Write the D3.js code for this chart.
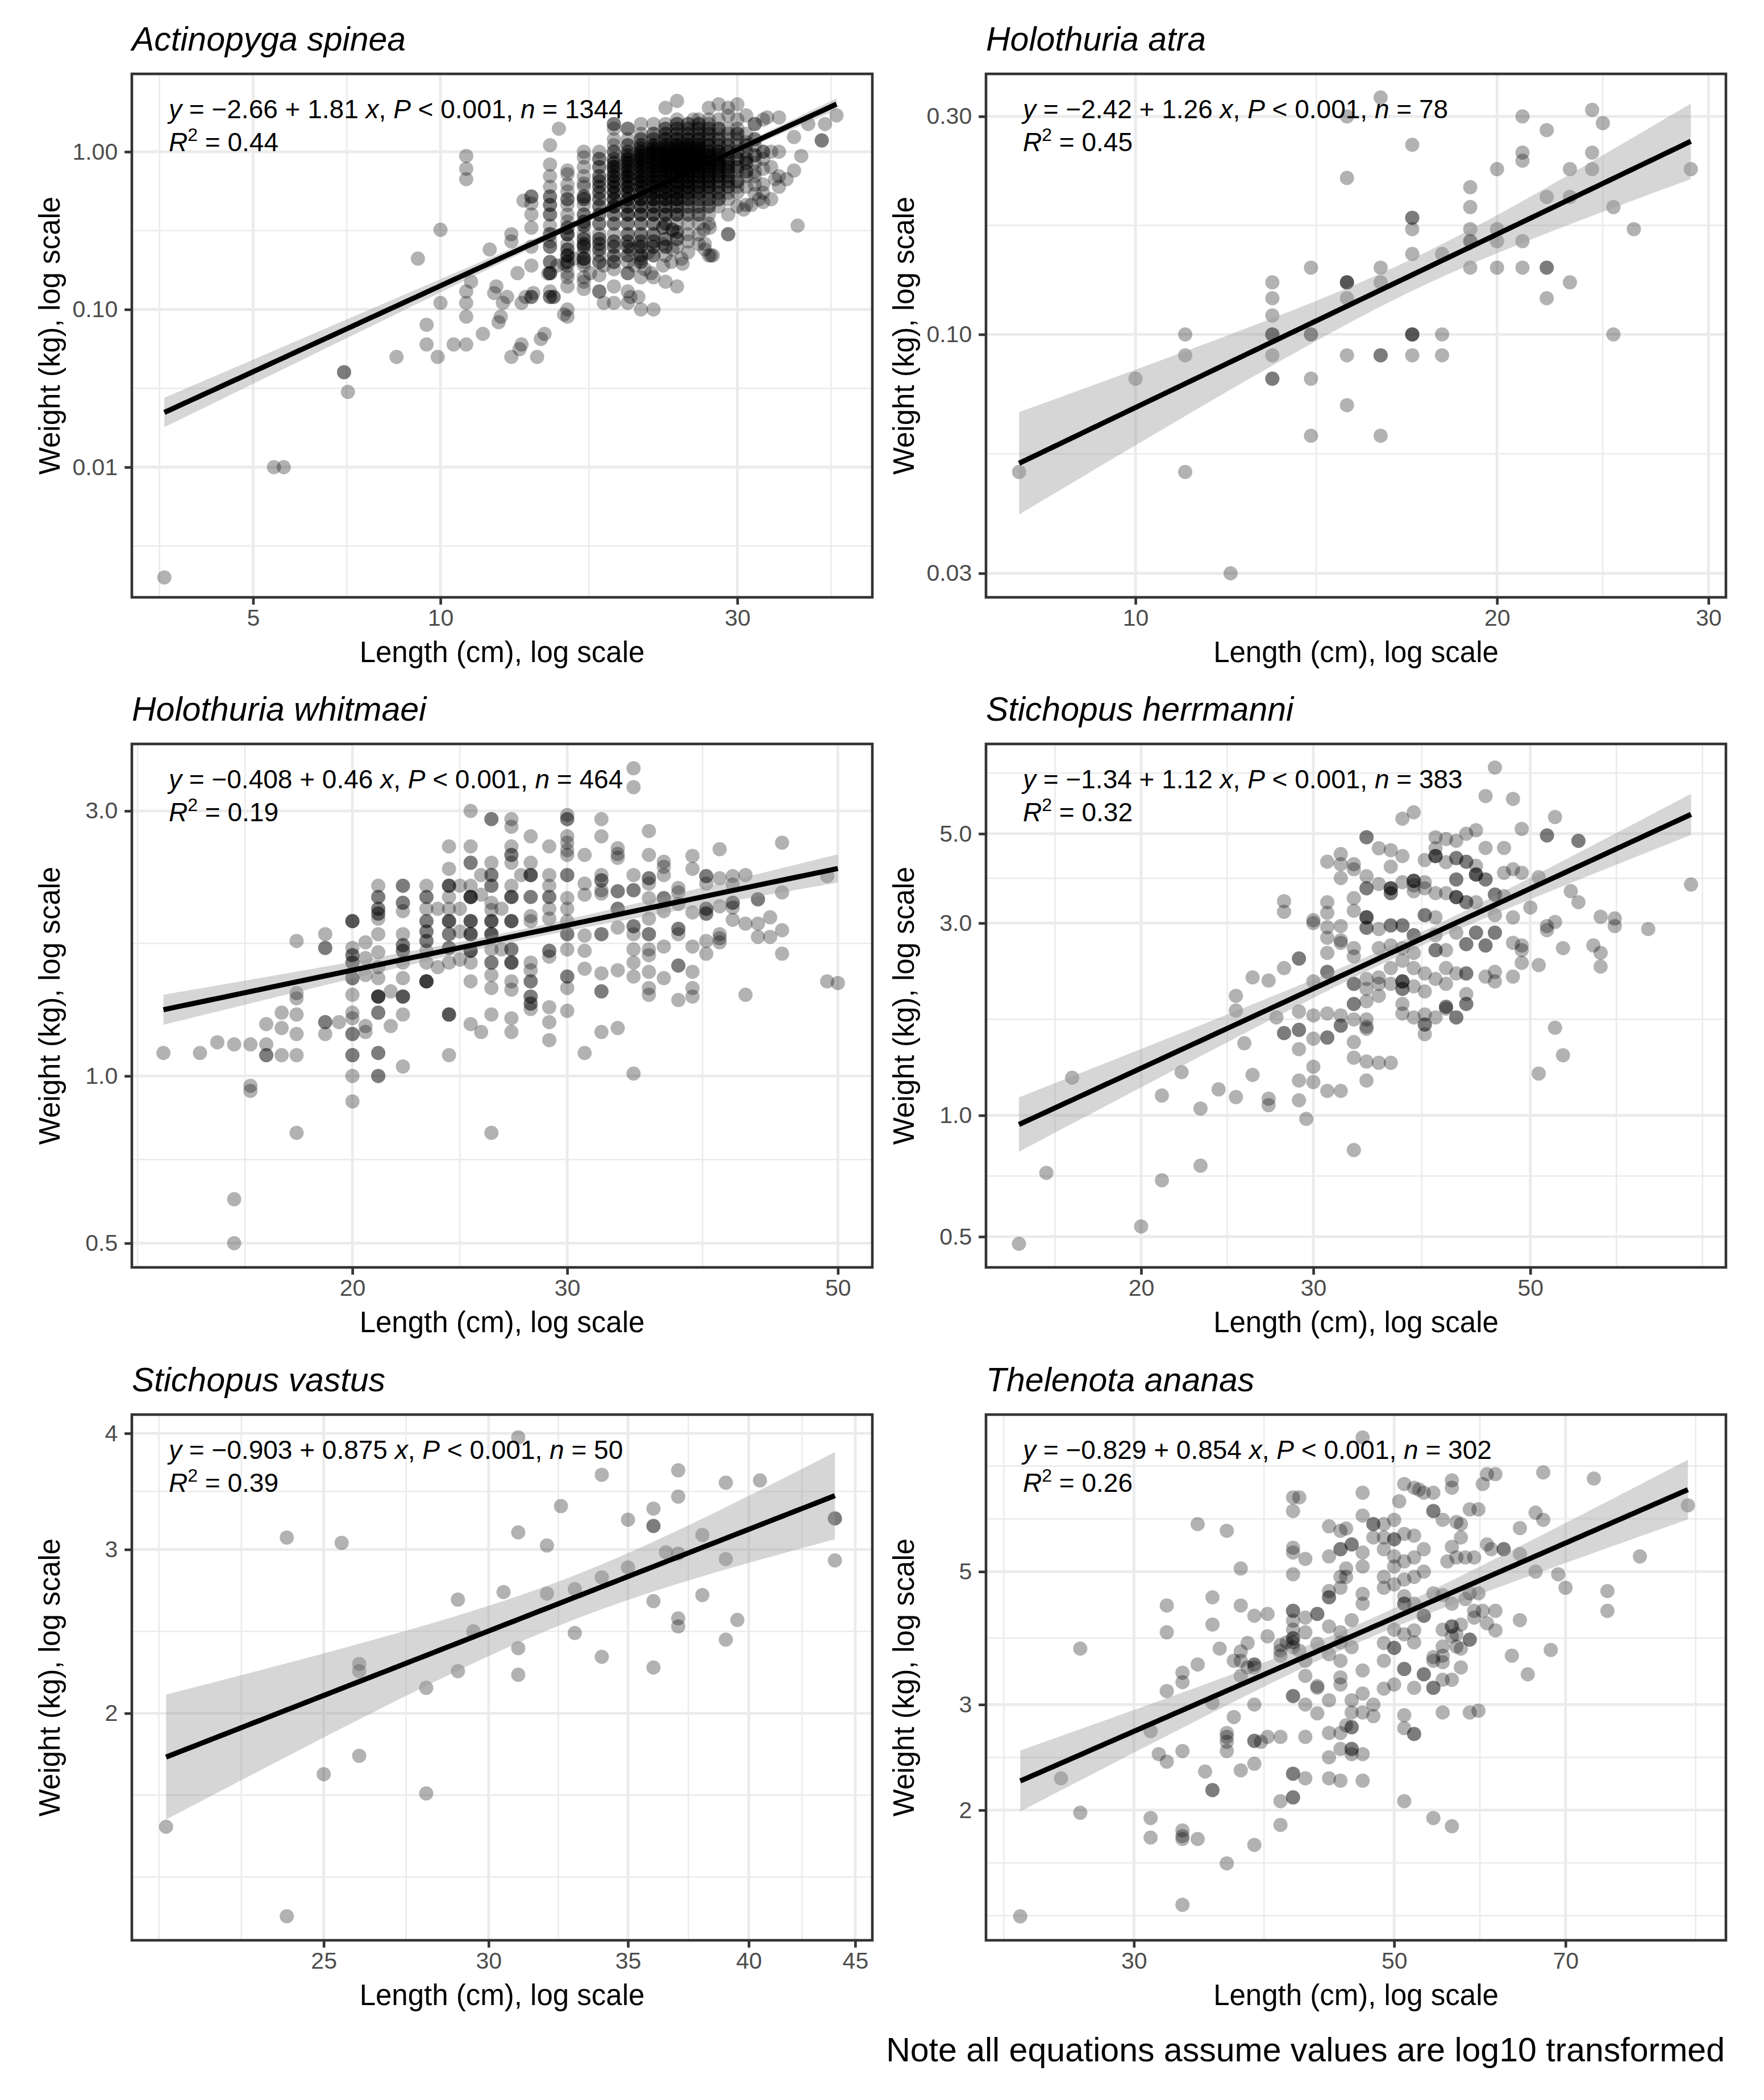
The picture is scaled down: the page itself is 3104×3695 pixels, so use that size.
<!DOCTYPE html>
<html>
<head>
<meta charset="utf-8">
<script src="https://cdn.jsdelivr.net/npm/d3@7"></script>
<style>
body{margin:0;background:#fff}
svg text{font-family:"Liberation Sans",Arial,Helvetica,sans-serif}
</style>
</head>
<body>
<svg id="chart" width="3104" height="3695"></svg>
<script>
// ---------- labels & fitted model summaries ----------
const panelTitles = ["Actinopyga spinea","Holothuria atra","Holothuria whitmaei","Stichopus herrmanni","Stichopus vastus","Thelenota ananas"];
const eqIntercept = [-2.66,-2.42,-0.408,-1.34,-0.903,-0.829];
const eqSlope = [1.81,1.26,0.46,1.12,0.875,0.854];
const rSquared = [0.44,0.45,0.19,0.32,0.39,0.26];
const nObs = [1344,78,464,383,50,302];
const pText = "0.001";

// ---------- axes ----------
const xTicks = [[5,10,30],[10,20,30],[20,30,50],[20,30,50],[25,30,35,40,45],[30,50,70]];
const xTickLabels = [["5","10","30"],["10","20","30"],["20","30","50"],["20","30","50"],["25","30","35","40","45"],["30","50","70"]];
const yTicks = [[0.01,0.1,1],[0.03,0.1,0.3],[0.5,1,3],[0.5,1,3,5],[2,3,4],[2,3,5]];
const yTickLabels = [["0.01","0.10","1.00"],["0.03","0.10","0.30"],["0.5","1.0","3.0"],["0.5","1.0","3.0","5.0"],["2","3","4"],["2","3","5"]];
const xLimits = [[3.192,49.44],[7.508,31.02],[13.19,53.36],[13.88,79.25],[20.22,45.86],[22.44,95.9]];
const yLimits = [[0.001495,3.117],[0.02658,0.3717],[0.4523,3.960],[0.4195,8.35],[1.140,4.19],[1.213,9.14]];
const xTitle = "Length (cm), log scale";
const yTitle = "Weight (kg), log scale";
const note = "Note all equations assume values are log10 transformed";

// ---------- data: [length cm, weight kg, (count of overlapping records)] ----------
const spinea = [
[3.6,0.002],[5.4,0.01],[5.6,0.01],[7,0.04,2],[7.1,0.03],[8.5,0.05],[9.2,0.21],[9.5,0.08],[9.5,0.06],[9.9,0.05],
[10,0.32],[10,0.11],[10.5,0.06],[11,0.94],[11,0.78],[11,0.67],[11,0.13],[11,0.11],[11,0.09],[11,0.06],
[11.2,0.15],[11.7,0.07],[12,0.24],[12.2,0.127],[12.3,0.14],[12.4,0.083],[12.5,0.09],[12.6,0.11],[12.8,0.12],
[13,0.05],[13,0.3],[13,0.27],[13.3,0.17],[13.4,0.056],[13.5,0.06],[13.5,0.11],[13.6,0.49],[13.7,0.12],
[14,0.52,2],[14,0.47],[14,0.4],[14,0.33],[14,0.25],[14,0.19],[14,0.12,2],[14.1,0.127],[14.3,0.05],[14.5,0.065],[14.7,0.07],[14.9,0.169],
[15,1.1],[15,0.83],[15,0.7],[15,0.6],[15,0.52,2],[15,0.46,2],[15,0.4,2],[15,0.34],[15,0.3,2],[15,0.27],[15,0.25,2],[15,0.2,2],[15,0.17,3],[15,0.13],[15,0.12,2],[15.2,0.12,2],[15.4,0.19],[15.5,1.4],[15.8,0.195],[15.8,0.093],
[16,0.76],[16,0.72],[16,0.62],[16,0.56],[16,0.5,2],[16,0.46],[16,0.4],[16,0.36],[16,0.33,2],[16,0.3,3],[16,0.26],[16,0.24,2],[16,0.22,3],[16,0.2,2],[16,0.19],[16,0.17],[16,0.16],[16,0.14],[16,0.10],[16,0.09],[16.4,0.21],
[17,1.0],[17,0.92],[17,0.8],[17,0.7],[17,0.63],[17,0.6],[17,0.52,2],[17,0.5,2],[17,0.46],[17,0.4,2],[17,0.36,2],[17,0.34,2],[17,0.3],[17,0.28,2],[17,0.26,2],[17,0.25,2],[17,0.23],[17,0.21,3],[17,0.2],[17,0.19],[17,0.16],[17,0.15],[17,0.135],[17.4,0.17],
[18,0.35,2],[18,0.4,2],[18,0.45,2],[18,0.5,2],[18,0.55,2],[18,0.6,2],[18,0.65,2],[18,0.7,2],[18,0.8,2],[18,0.9,2],[18,1.0],[18,0.3],[18,0.28,2],[18,0.26,2],[18,0.24,2],[18,0.22],[18,0.2,2],[18,0.165],[18,0.13,2],[18.3,0.19],[18.3,0.11],
[19,0.2,2],[19,0.22,2],[19,0.25,2],[19,0.27,2],[19,0.3],[19,0.35,2],[19,0.4,2],[19,0.45,3],[19,0.5,3],[19,0.55,3],[19,0.6,3],[19,0.65,3],[19,0.7,3],[19,0.75,2],[19,0.8,3],[19,0.85,2],[19,0.9,2],[19,1.0,2],[19,1.1],[19,1.2],[19,1.4],[19,1.5,2],[19,0.18],[19,0.14],[19,0.11],
[20,0.22,2],[20,0.25,2],[20,0.27,2],[20,0.3,2],[20,0.35,2],[20,0.4,3],[20,0.45,3],[20,0.5,3],[20,0.55,3],[20,0.6,4],[20,0.65,3],[20,0.7,4],[20,0.75,3],[20,0.8,3],[20,0.85,3],[20,0.9,3],[20,0.95,2],[20,1.0,2],[20,1.1,2],[20,1.2],[20,1.4,2],[20,0.2],[20,0.17,2],[20,0.13],[20,0.11],
[20.2,0.24],[20.2,0.12],[20.5,0.19],[20.8,0.25],[20.8,0.12],
[21,0.2,2],[21,0.22,2],[21,0.25,2],[21,0.27,2],[21,0.3,2],[21,0.35,2],[21,0.4,3],[21,0.45,3],[21,0.5,4],[21,0.55,3],[21,0.6,4],[21,0.65,4],[21,0.7,4],[21,0.75,3],[21,0.8,4],[21,0.85,3],[21,0.9,4],[21,0.95,3],[21,1.0,3],[21,1.05,2],[21,1.1,2],[21,1.2,2],[21,1.3],[21,1.5],[21,0.21],[21,0.16],[21,0.1],
[21.3,0.18],[21.6,0.23],[21.8,0.17],
[22,0.22,2],[22,0.25,2],[22,0.27,2],[22,0.3,2],[22,0.35,2],[22,0.4,3],[22,0.45,3],[22,0.5,4],[22,0.55,4],[22,0.6,4],[22,0.65,4],[22,0.7,4],[22,0.75,4],[22,0.8,4],[22,0.85,4],[22,0.9,4],[22,0.95,3],[22,1.0,4],[22,1.05,3],[22,1.1,3],[22,1.2,2],[22,1.3,2],[22,1.5],[22,0.16],[22,0.1],
[22.8,0.33,2],[22.8,0.26],[22.8,0.19],
[23,0.22],[23,0.25,2],[23,0.28,2],[23,0.35,2],[23,0.4,3],[23,0.45,3],[23,0.5,4],[23,0.55,4],[23,0.6,4],[23,0.65,4],[23,0.7,4],[23,0.75,4],[23,0.8,5],[23,0.85,4],[23,0.9,5],[23,0.95,4],[23,1.0,4],[23,1.05,3],[23,1.1,3],[23,1.2,3],[23,1.3,2],[23,1.4,2],[23,1.5],[23,1.9],[23,0.15],
[23.5,0.2],[23.6,0.32,2],[23.6,0.24],
[24,0.25],[24,0.28,2],[24,0.31,2],[24,0.35],[24,0.4,3],[24,0.45,3],[24,0.5,4],[24,0.55,4],[24,0.6,4],[24,0.65,4],[24,0.7,4],[24,0.75,4],[24,0.8,5],[24,0.85,4],[24,0.9,5],[24,0.95,4],[24,1.0,5],[24,1.05,3],[24,1.1,4],[24,1.2,3],[24,1.3,2],[24,1.4,2],[24,1.5,2],[24,1.6],[24,2.1],[24,0.14],
[24.4,0.21],[24.5,0.195],
[25,0.23],[25,0.27],[25,0.3],[25,0.35],[25,0.4,2],[25,0.45,2],[25,0.5,3],[25,0.55,3],[25,0.6,4],[25,0.65,4],[25,0.7,4],[25,0.75,4],[25,0.8,5],[25,0.85,4],[25,0.9,5],[25,0.95,4],[25,1.0,5],[25,1.05,3],[25,1.1,4],[25,1.2,3],[25,1.3,2],[25,1.4,2],[25,1.5,2],[25.5,1.6],
[26,0.26],[26,0.3],[26,0.35],[26,0.4,2],[26,0.45,2],[26,0.5,2],[26,0.55,3],[26,0.6,3],[26,0.65,3],[26,0.7,4],[26,0.75,3],[26,0.8,4],[26,0.85,4],[26,0.9,5],[26,0.95,4],[26,1.0,4],[26,1.05,3],[26,1.1,3],[26,1.2,3],[26,1.3,2],[26,1.4,2],[26,1.5,2],[26,1.6],
[26.5,0.32],[26.6,0.26],[26.6,0.24],
[27,0.22],[27,0.35],[27,0.4],[27,0.45,2],[27,0.5,2],[27,0.55,2],[27,0.6,3],[27,0.65,3],[27,0.7,3],[27,0.75,3],[27,0.8,4],[27,0.85,3],[27,0.9,4],[27,0.95,3],[27,1.0,3],[27,1.1,3],[27,1.2,2],[27,1.3,2],[27,1.4,2],[27,1.5],[27,1.6],[27,1.9],
[27.1,0.33],[27.2,0.22],[27.4,0.22],
[28,0.45],[28,0.5,2],[28,0.55,2],[28,0.6,2],[28,0.65,2],[28,0.7,3],[28,0.75,2],[28,0.8,3],[28,0.85,3],[28,0.9,3],[28,0.95,2],[28,1.0,3],[28,1.1,2],[28,1.2,2],[28,1.3],[28,1.4,2],[28,1.6],[28,2.0],
[29,0.3,2],[29,0.4],[29,0.5],[29,0.55],[29,0.6,2],[29,0.65,2],[29,0.7,2],[29,0.75,2],[29,0.8,2],[29,0.85,2],[29,0.9,2],[29,1.0,2],[29,1.1,2],[29,1.2],[29,1.3],[29,1.4],[29,1.7],[29,1.9],
[30,0.45],[30,0.55],[30,0.6],[30,0.65,2],[30,0.75],[30,0.8,2],[30,0.9,2],[30,1.0,2],[30,1.1],[30,1.2],[30,1.3,2],[30,1.4],[30,1.6],[30,2.0],[30.7,0.43],
[31,0.46],[31,0.6],[31,0.7],[31,0.75,2],[31,0.85,2],[31,0.9,2],[31,1.0],[31,1.1,2],[31,1.15],[31,1.3],[31,1.7],[31.6,0.46],
[32,0.54],[32,0.62],[32,0.7],[32,0.75],[32,0.85],[32,0.95,2],[32,1.1],[32,1.2,2],[32,1.5,2],[32.5,0.5],
[33,0.48],[33,0.55],[33,0.62],[33,0.78],[33,0.9],[33,1.0,2],[33,1.6],[33.5,1.65],
[34,0.5],[34,0.8],[34,1.0],[34.5,0.67],
[35,0.6],[35,0.7],[35,1.0],[35,1.65],[36,0.67],[37,1.24],[37,0.76],[37.5,0.34],[38,0.94],[39,1.5],[41,1.18,2],[41.5,1.5],[43.3,1.7]
];

const atra = [
[8,0.05],[10,0.08],[11,0.10],[11,0.09],[11,0.05],[12,0.03],
[13,0.13],[13,0.12],[13,0.11],[13,0.10,3],[13,0.09],[13,0.08,2],
[14,0.14],[14,0.10,2],[14,0.08],[14,0.06],
[15,0.30],[15,0.22],[15,0.13,3],[15,0.12],[15,0.09],[15,0.07],
[16,0.33],[16,0.14],[16,0.13],[16,0.09,2],[16,0.06],
[17,0.26],[17,0.18,2],[17,0.17],[17,0.15],[17,0.10,3],[17,0.09],
[18,0.15],[18,0.10],[18,0.09],
[19,0.21],[19,0.19],[19,0.17],[19,0.16,2],[19,0.14],
[20,0.23],[20,0.17],[20,0.16],[20,0.14],
[21,0.30],[21,0.25],[21,0.24],[21,0.16],[21,0.14],
[22,0.28],[22,0.20],[22,0.14,2],[22,0.12],
[23,0.23],[23,0.20],[23,0.13],
[24,0.31],[24,0.25],[24,0.23],[24.5,0.29],
[25,0.19],[25,0.10],[26,0.17],[29,0.23]
];

const whitmaei = [
[14,1.1],[15,1.1],[15.5,1.15],[16,1.14],[16,0.6],[16,0.5],[16.5,1.14],[16.5,0.96],[16.5,0.94],
[17,1.24],[17,1.14],[17,1.09,2],[17.5,1.3],[17.5,1.22],[17.5,1.09],
[18,1.75],[18,1.41],[18,1.38],[18,1.29],[18,1.19],[18,1.09],[18,0.79],
[19,1.8],[19,1.7,2],[19,1.25,2],[19,1.19],[19.5,1.25],
[20,1.9,3],[20,1.7],[20,1.65,2],[20,1.6,2],[20,1.5,2],[20,1.4],[20,1.3],[20,1.27],[20,1.19,2],[20,1.09,2],[20,1.0],[20,0.9],
[20.5,1.74],[20.5,1.63],[20.5,1.52],[20.5,1.23],[20.5,1.2],
[21,2.2],[21,2.1,2],[21,2.0,2],[21,1.96,2],[21,1.92],[21,1.8],[21,1.67],[21,1.57],[21,1.5],[21,1.39,4],[21,1.3,2],[21,1.1,2],[21,1.0,2],
[21.5,1.42],[21.5,1.23],
[22,2.2,2],[22,2.05,2],[22,1.98],[22,1.8],[22,1.72,2],[22,1.68,2],[22,1.6],[22,1.5],[22,1.39,3],[22,1.29],[22,1.04],
[23,2.2],[23,2.1,2],[23,2.0],[23,1.9,2],[23,1.82,2],[23,1.75,2],[23,1.68],[23,1.6],[23,1.48,4],
[23.5,2.0],[23.5,1.57],
[24,2.59],[24,2.36],[24,2.2,3],[24,2.1],[24,2.0],[24,1.9,3],[24,1.8,2],[24,1.7,2],[24,1.6],[24,1.29,3],[24,1.09],
[24.5,2.2],[24.5,2.0],[24.5,1.82],[24.5,1.62],
[25,3.0],[25,2.59],[25,2.42,2],[25,2.2],[25,2.1,4],[25,1.9,3],[25,1.8,3],[25,1.68,3],[25,1.6],[25,1.48],[25,1.24],
[25.5,2.3],[25.5,2.12],[25.5,1.2],
[26,2.9,2],[26,2.42],[26,2.3,2],[26,2.2,2],[26,2.05],[26,1.99],[26,1.9,3],[26,1.8,3],[26,1.69],[26,1.6,2],[26,1.52],[26,1.44],[26,1.29],[26,0.79],
[26.5,2.0],[26.5,1.69],
[27,2.9],[27,2.81],[27,2.59],[27,2.5,2],[27,2.42],[27,2.2],[27,2.1,3],[27,1.9,3],[27,1.69,2],[27,1.6,3],[27,1.48],[27,1.43],[27,1.27],[27,1.2],
[27.5,2.3],
[28,2.7],[28,2.42],[28,2.3,3],[28,2.1,2],[28,1.94],[28,1.9],[28,1.6],[28,1.55],[28,1.48,2],[28,1.39,2],[28,1.35,2],[28,1.32],
[29,2.59],[29,2.3],[29,2.2],[29,2.1,2],[29,2.0],[29,1.92],[29,1.68,2],[29,1.64],[29,1.33],[29,1.25],[29,1.16],
[30,2.95],[30,2.9,2],[30,2.7],[30,2.63],[30,2.55],[30,2.5],[30,2.3,2],[30,2.09],[30,2.0],[30,1.9],[30,1.8,2],[30,1.69],[30,1.51,2],[30,1.44],[30,1.31],
[31,2.5],[31,2.22],[31,2.12],[31,1.79],[31,1.68],[31,1.56],[31,1.1],
[32,2.9],[32,2.7],[32,2.3],[32,2.25,2],[32,2.16],[32,2.13],[32,1.8,2],[32,1.53],[32,1.42,2],[32,1.2],
[33,2.57],[33,2.51],[33,2.47],[33,2.15,2],[33,2.0,2],[33,1.85],[33,1.55],[33,1.22],
[34,3.58],[34,3.31],[34,2.3],[34,2.16,2],[34,1.86,2],[34,1.8],[34,1.69],[34,1.6],[34,1.51],[34,1.01],
[35,2.76],[35,2.5],[35,2.27,2],[35,2.22],[35,2.09],[35,1.92],[35,1.8,2],[35,1.69],[35,1.65],[35,1.54],[35,1.44],[35,1.4],
[36,2.43],[36,2.38],[36,2.3],[36,2.09,2],[36,1.98],[36,1.71],[36,1.5],
[37,2.18],[37,2.14],[37,2.04],[37,1.84,2],[37,1.8],[37,1.58,2],[37,1.37],
[38,2.49],[38,2.36],[38,1.97],[38,1.71],[38,1.54],[38,1.44],[38,1.39],
[39,2.29,2],[39,2.22],[39,2.0,2],[39,1.96,2],[39,1.75],[39,1.66],
[40,2.56],[40,2.27],[40,2.02],[40,1.8],[40,1.77],[40,1.74],
[41,2.29],[41,2.21],[41,2.05,2],[41,2.01],[41,1.91],
[42,2.3],[42,1.88],[42,1.4],
[43,2.08,2],[43,1.88],[43,1.78],
[44,1.93],[44,1.78],
[45,2.63],[45,2.14],[45,1.83],[45,1.66],
[49,2.29],[49,1.48],[50,1.47]
];

const herrmanni = [
[15,0.48],[16,0.72],[17,1.24],[20,0.53],[21,1.12],[21,0.69],[22,1.28],[23,1.04],[23,0.75],[24,1.16],
[25,1.98],[25,1.82],[25,1.11],[25.5,1.51],[26,2.2],[26,1.26],[27,1.10],[27,1.06],[27,2.16],[27.5,1.75],[29,1.09],
[46,7.3],[45,6.2],[48,6.1],[37,5.45],[38,5.65],[53,5.5],[34,4.9,2],[49,5.14],[52,4.95,2],[56,4.8,2],
[40,4.9],[41,4.85],[42,4.8],[43,5.0],[44,5.1],[35,4.6],[36,4.55],[37,4.4],
[32,4.45],[31,4.26],[32,4.2],[33,4.2],[33,4.08],[32,3.88],[36,4.14],
[39,4.3],[40,4.4,3],[40,4.6],[41,4.25],[42,4.35,2],[43,4.26,2],[44,4.16],
[44,3.96,3],[45,3.85,2],[45,4.61],[47,4.61],[47,4.0],[48,4.08],[49,4.0],[51,3.9],
[34,3.92],[34,3.66,2],[35,3.75],[36,3.66,3],[36,3.56,2],
[37,3.79],[38,3.82,3],[38,3.72],[39,3.79],[38,3.6],[39,3.66],[40,3.56],
[41,3.56],[42,3.85,2],[42,3.48,3],[43,3.38,2],[44,3.38],
[46,3.53,2],[47,3.5],[55,3.6],[56,3.38],[50,3.28],
[31,3.38],[31,3.18],[30,3.05],[33,3.46],[33,3.22],
[34,3.1,3],[34,2.92,2],[36,2.96,2],[37,2.96,2],
[35,2.6],[36,2.64],[37,2.6],[38,2.8,2],[38,2.53],
[39,3.14,2],[40,3.1],[40,2.8],[40,2.57,2],[41,2.57],
[42,2.84],[43,2.66,2],[44,2.84,2],[45,2.64,2],[46,2.84,2],[46,3.14],[48,3.1],
[48,2.68],[49,2.64],[49,2.57],[52,2.95],[52,2.88],[53,3.02],
[59,3.11],[61,3.08],[61,2.95],[66,2.9],[73,3.74],
[54,2.6],[58,2.64],[59,2.53],[59,2.34],[51,2.36],[49,2.39],[48,2.21],
[45,2.21],[46,2.27],[46,2.15],[43,2.25,2],[41,2.12],[41,1.84],[42,1.75],
[39,2.25],[40,2.18],[39,2.03],[38,2.09],[37,2.15,3],[37,2.06,2],[36,2.12],[35,2.12],[35,1.98],
[33,2.12,2],[34,2.18],[34,2.06],[34,1.92],[37,1.89],[37,1.79],
[38,1.75],[39,1.78],[39,1.68,2],[39,1.59],[40,1.75],[41,1.86,2],[42,1.75],[43,1.89,2],
[31,1.79],[30,1.77],[29,1.81],
[32,1.77],[32,1.67,2],[33,1.89,2],[33,1.73],[34,1.73],[34,1.66],[34,1.64],
[31,1.56,2],[30,1.55],[29,1.63,2],[29,1.46],[28,1.6,2],
[33,1.52],[33,1.39],[34,1.36],[35,1.35],[36,1.35],
[30,1.32],[29,1.22],[30,1.21],[31,1.15],[32,1.15],[34,1.22],[29.5,0.98],[33,0.82],
[53,1.65],[54,1.41],[51,1.27],
[28,3.2],[28,3.4],[28,2.32],[29,2.45,2],
[30,2.15],[31,2.27,2],[31,2.53],[31,2.76],[32,2.72],[33,2.6],[33,2.48],
[30,3.0],[31,2.93],[32,2.95],[32,2.68],[35,2.9],[35,2.2],[36,2.32],[37,2.42],[38,2.32],[41,2.32],[42,2.25],[43,2.0]
];

const vastus = [
[21,1.51],[24,3.09],[24,1.21],[25,1.72],[25.5,3.05],[26,2.26],[26,2.22],[26,1.80],
[28,2.13],[28,1.64],[29,2.65],[29,2.22],[29.5,2.45],[30.5,2.70],
[31,3.96],[31,3.13],[31,2.35],[31,2.20],[32,3.03],[32,2.69],[32.5,3.34],
[33,2.72],[33,2.44],[34,3.61],[34,2.80],[34,2.30],[35,3.23],[35,2.87],
[36,3.32],[36,3.18,2],[36,2.64],[36,2.24],[36.5,2.98],
[37,3.65],[37,3.42],[37,2.97],[37,2.53],[37,2.48],
[38,3.11],[38,2.68],[39,3.54],[39,2.93],[39,2.40],[39.5,2.52],[40.5,3.56],
[44,3.24,2],[44,2.92]
];

const ananas = [
[24,1.33],[26,2.26],[27,3.72],[27,1.98],
[31,2.71],[31,1.94],[31,1.80],[31.5,2.48],[32,2.41],[32,4.39],[32,3.96],[32,3.16],
[33,3.39],[33,3.27],[33,2.51],[33,1.85],[33,1.81],[33,1.79],[33,1.39],
[34,6.0],[34,3.5],[34,1.79],[34.5,2.32],
[35,4.53],[35,4.08],[35,3.02],[35,2.16,2],[35.5,3.72],
[36,5.85],[36,2.69],[36,2.65],[36,2.6],[36,2.51],[36,1.63],[36.5,2.86],
[37,5.06],[37,3.35],[37,3.68],[37,2.33],[37.5,3.8],[37,4.39],[36.5,3.55],[37,3.55],[37.5,3.46],
[38,4.22],[38,3.5,2],[38,3.46],[38,3.0],[38,2.61,2],[38,1.75],[38.5,2.6],[38,2.39],
[39,3.9],[39,4.25],[39,2.65],
[40,2.65],[40,2.07],[40,1.89],[40,3.69],[40,3.62],[40,3.77],[40.5,3.81],
[41,6.65],[41.5,6.65],[41,6.31],[41,5.48],[41,5.38],[41,4.95],[41,4.3,2],[41,4.14],[41,4.0],[41,3.87,2],[41,3.81],[41,3.74],[41,3.1,2],[41,2.3,2],[41,2.1,2],[41.5,3.69],
[42,5.25],[42,4.19],[42,3.96],[42,3.35],[42,2.65],[42,3.55],[42,3.0],[42,2.26],
[43,4.25,2],[43,3.22],[43,2.9],[43,3.79],[43,3.2],
[44,5.95],[44,5.3],[44,4.64],[44,4.53,2],[44,4.05],[44,3.64],[44,3.05],[44,2.45],[44,2.26],[44,2.69],
[45,5.85],[45,5.45,2],[45,4.9],[45,4.7],[45,3.96],[45,3.81],[45,3.55],[45,2.69],[45,2.53],[45,3.33],[45,3.24],[45,2.24],
[45.5,5.9],[46,5.55,2],[45.5,5.06],[45.5,4.9],[45.5,2.77],[46,2.75,2],[46,4.15],[46,3.74],[46,3.05],[46,2.91],[46,2.48],[46,2.53,2],
[47,6.77],[47,5.38],[47,5.1],[47,3.42],[47,3.13],[47,2.91],[47,2.48],[47,2.24],[47,4.59],[47,4.42],[47,8.37],[47,6.2],
[48,6.0,2],[49,6.0],[50,6.1],[50,5.66,2],[49,5.7],[51,5.78],[52,5.74],[50.5,6.55],[51,7.0],[52,6.9],[52.5,6.85],[53,6.77],[54,6.77],[54,6.31,2],[55,6.1],
[56,7.1],[56,6.9],[56.5,6.05],[57,6.0],[58,6.35],[59,6.35],[59.5,7.0],[60,7.27],[61,7.27],[67,7.32],[74,7.15],[64,5.91],[66,6.27],[67,6.1],
[48,5.7],[57,5.7],[56,5.5],[55.5,5.2],[56.5,5.28],[57.5,5.28],[58.5,5.28],[60,5.55],[60.5,5.45],[62,5.45,2],[64,5.35],[66,5.0],[69,4.95],[70,4.7],[76,4.64],[76,4.3],[81,5.3],[89,6.45],
[49,5.45],[50,5.3],[49,4.9],[50,5.1],[50,4.76],[51,5.2],[52,5.28],[52,4.9],[53,5.0],[51,4.85],[49,4.7],[51,4.55],[53,5.45],
[51,4.42,2],[52,4.42],[53,4.22,2],[54,4.6],[55,4.57],[56,4.42],[57.5,4.5],[58,4.6],[59,4.6],[58.5,4.3],[59.5,4.3],[61,4.3],[58.5,4.19],[60,4.1],[61,3.99],[64,4.15],
[50,4.0],[51,3.93],[52,3.99],[50,3.73,2],[49,3.8],[49,3.55],[52,3.81],
[55,4.0],[56,4.05,2],[57,4.08],[56,3.9],[56.5,3.93],[55,3.75],[56.5,3.75],[58,3.85,2],
[54,3.6],[55,3.62],[54,3.55],[55,3.53],[57,3.72],[57,3.46],
[51,3.44,2],[49,3.19],[50,3.24],[52,3.2],[53,3.37,2],[54,3.2,2],[55,3.3],[56,3.3],
[48,3.0],[48,2.87],[51,2.88],[51,2.74],[52,2.68,2],[55,2.91],[58,2.91],[59,2.93],
[51,2.07],[54,1.94],[56,1.88],[63,3.62],[65,3.37],[68,3.7]
];

const panelData = [spinea, atra, whitmaei, herrmanni, vastus, ananas];

// ---------- layout ----------
const colX = [[232,1535],[1735,3037]];
const rowY = [[130,1051],[1309,2230],[2489,3414]];
const GRID = "#EBEBEB", DARK = "#333333", TICKTXT = "#4D4D4D";

const svg = d3.select("#chart");
svg.append("rect").attr("width",3104).attr("height",3695).attr("fill","#fff");

function expand(data){
  const out = [];
  data.forEach(d => { const k = d[2] || 1; for (let j=0;j<k;j++) out.push([d[0],d[1]]); });
  return out;
}
// ggplot2-style minor breaks (midpoints in transformed space, extended by first break gap)
function minorBreaks(major, lim){
  const b = major.map(Math.log10), bd = b[1]-b[0];
  const lo = Math.log10(lim[0]), hi = Math.log10(lim[1]);
  const bb = b.slice();
  if (lo < bb[0]) bb.unshift(bb[0]-bd);
  if (hi > bb[bb.length-1]) bb.push(bb[bb.length-1]+bd);
  const out = [];
  for (let k=0;k<bb.length-1;k++){ out.push(bb[k], (bb[k]+bb[k+1])/2); }
  out.push(bb[bb.length-1]);
  return out.filter(v => v>=lo && v<=hi && !b.some(m => Math.abs(m-v)<1e-9)).map(v => Math.pow(10,v));
}
// confidence band of the fitted mean (log10 space)
function bandData(i, pts){
  const a = eqIntercept[i], b = eqSlope[i];
  const L = pts.map(p => [Math.log10(p[0]), Math.log10(p[1])]);
  const n = L.length, N = nObs[i];
  const mx = d3.mean(L, p => p[0]);
  const vx = d3.mean(L, p => (p[0]-mx)**2);
  const s = Math.sqrt(d3.sum(L, p => (p[1]-a-b*p[0])**2)/(n-2));
  const t = 1.96 + 2.37/(N-2);
  const [lo, hi] = d3.extent(L, p => p[0]);
  return d3.range(101).map(k => {
    const x = lo + (hi-lo)*k/100;
    const h = t*s*Math.sqrt(1/N + (x-mx)**2/(N*vx));
    const y = a + b*x;
    return [x, y-h, y+h, y];
  });
}

panelData.forEach((data, i) => {
  const [x0,x1] = colX[i%2], [y0,y1] = rowY[Math.floor(i/2)];
  const xs = d3.scaleLog().domain(xLimits[i]).range([x0,x1]);
  const ys = d3.scaleLog().domain(yLimits[i]).range([y1,y0]);
  const g = svg.append("g");
  svg.append("clipPath").attr("id","clip"+i).append("rect")
    .attr("x",x0).attr("y",y0).attr("width",x1-x0).attr("height",y1-y0);
  const inner = g.append("g").attr("clip-path",`url(#clip${i})`);

  // grid
  const mxs = minorBreaks(xTicks[i], xLimits[i]), mys = minorBreaks(yTicks[i], yLimits[i]);
  inner.selectAll(".gmx").data(mxs).join("line")
    .attr("x1",d=>xs(d)).attr("x2",d=>xs(d)).attr("y1",y0).attr("y2",y1)
    .attr("stroke",GRID).attr("stroke-width",2.6);
  inner.selectAll(".gmy").data(mys).join("line")
    .attr("y1",d=>ys(d)).attr("y2",d=>ys(d)).attr("x1",x0).attr("x2",x1)
    .attr("stroke",GRID).attr("stroke-width",2.6);
  inner.selectAll(".gx").data(xTicks[i]).join("line")
    .attr("x1",d=>xs(d)).attr("x2",d=>xs(d)).attr("y1",y0).attr("y2",y1)
    .attr("stroke",GRID).attr("stroke-width",4.8);
  inner.selectAll(".gy").data(yTicks[i]).join("line")
    .attr("y1",d=>ys(d)).attr("y2",d=>ys(d)).attr("x1",x0).attr("x2",x1)
    .attr("stroke",GRID).attr("stroke-width",4.8);

  // points
  const pts = expand(data);
  inner.append("g").selectAll("circle").data(pts).join("circle")
    .attr("cx",d=>xs(d[0])).attr("cy",d=>ys(d[1])).attr("r",12.5)
    .attr("fill","#000").attr("fill-opacity",0.3);

  // band + line
  const bd = bandData(i, pts);
  inner.append("path").datum(bd)
    .attr("d", d3.area().x(d=>xs(10**d[0])).y0(d=>ys(10**d[1])).y1(d=>ys(10**d[2])))
    .attr("fill","#999999").attr("fill-opacity",0.4);
  inner.append("path").datum(bd)
    .attr("d", d3.line().x(d=>xs(10**d[0])).y(d=>ys(10**d[3])))
    .attr("fill","none").attr("stroke","#000").attr("stroke-width",9);

  // border
  g.append("rect").attr("x",x0).attr("y",y0).attr("width",x1-x0).attr("height",y1-y0)
    .attr("fill","none").attr("stroke",DARK).attr("stroke-width",4.6);

  // axes
  const ax = g.append("g").attr("transform",`translate(0,${y1})`)
    .call(d3.axisBottom(xs).tickValues(xTicks[i]).tickFormat((d,k)=>xTickLabels[i][k]).tickSize(12.8).tickPadding(8));
  const ay = g.append("g").attr("transform",`translate(${x0},0)`)
    .call(d3.axisLeft(ys).tickValues(yTicks[i]).tickFormat((d,k)=>yTickLabels[i][k]).tickSize(12.8).tickPadding(12));
  [ax, ay].forEach(a => {
    a.select(".domain").remove();
    a.selectAll(".tick line").attr("stroke",DARK).attr("stroke-width",4.6);
    a.selectAll(".tick text").attr("fill",TICKTXT).attr("font-size",41)
      .attr("font-family",'"Liberation Sans",Arial,sans-serif');
    a.attr("font-size",null).attr("font-family",null);
  });

  // titles
  g.append("text").attr("x",x0).attr("y",y0-41).attr("font-size",59).attr("font-style","italic")
    .attr("fill","#000").text(panelTitles[i]);
  g.append("text").attr("x",(x0+x1)/2).attr("y",y1+114).attr("text-anchor","middle")
    .attr("font-size",51).attr("fill","#000").text(xTitle);
  g.append("text").attr("transform",`translate(${x0-127},${(y0+y1)/2}) rotate(-90)`)
    .attr("text-anchor","middle").attr("font-size",51).attr("fill","#000").text(yTitle);

  // equation label
  const fmtSigned = v => (v<0 ? "\u2212" : "") + Math.abs(v);
  const eq = g.append("text").attr("x",x0+65).attr("y",y0+78).attr("font-size",46)
    .attr("fill","#000").style("white-space","pre");
  eq.append("tspan").attr("font-style","italic").text("y");
  eq.append("tspan").text(` = ${fmtSigned(eqIntercept[i])} + ${eqSlope[i]} `);
  eq.append("tspan").attr("font-style","italic").text("x");
  eq.append("tspan").text(", ");
  eq.append("tspan").attr("font-style","italic").text("P");
  eq.append("tspan").text(` < ${pText}, `);
  eq.append("tspan").attr("font-style","italic").text("n");
  eq.append("tspan").text(` = ${nObs[i]}`);
  const r2 = g.append("text").attr("x",x0+65).attr("y",y0+136).attr("font-size",46)
    .attr("fill","#000").style("white-space","pre");
  r2.append("tspan").attr("font-style","italic").text("R");
  r2.append("tspan").attr("font-size",32).attr("dy",-18).text("2");
  r2.append("tspan").attr("dy",18).text(` = ${rSquared[i].toFixed(2)}`);
});

svg.append("text").attr("x",3035).attr("y",3627).attr("text-anchor","end")
  .attr("font-size",59).attr("fill","#000").text(note);
</script>
</body>
</html>
